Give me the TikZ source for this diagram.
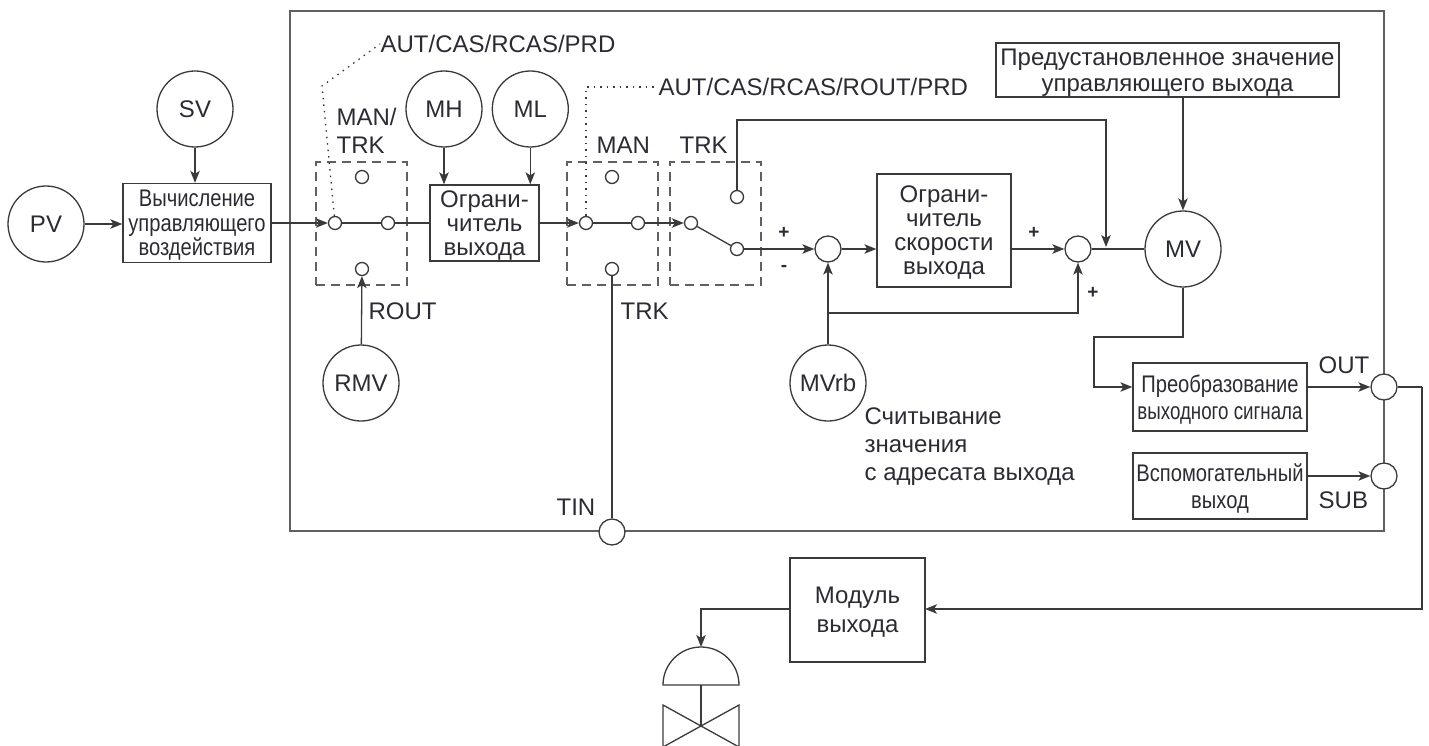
\documentclass[tikz,border=0pt]{standalone}
\usepackage{fontspec}
\usepackage{graphicx}
\setmainfont{Liberation Sans}
\newfontfamily\narrowfont[FakeStretch=0.84]{Liberation Sans}
\usepackage{xcolor}
\definecolor{wire}{HTML}{3A3A3A}
\definecolor{framegray}{HTML}{606060}
\definecolor{textmain}{HTML}{2B2B33}
\usetikzlibrary{arrows.meta,positioning}

\begin{document}
\begin{tikzpicture}[
  x=1pt,y=-1pt,
  >={Stealth[length=12pt,width=9.5pt,inset=3pt]},
  color=wire,line width=1.3pt,
  every node/.style={text=textmain,inner sep=0pt,align=center,font=\fontsize{24}{24}\selectfont},
  tag/.style={draw=none,font=\fontsize{24}{28}\selectfont},
  sign/.style={draw=none,font=\bfseries\fontsize{19}{20}\selectfont},
  box/.style={draw,rectangle,text depth=-2pt},
  narrowbox/.style={box,font=\narrowfont\fontsize{24}{27}\selectfont},
  signal/.style={draw,circle,fill=white,minimum size=76pt},
  sum/.style={draw,circle,fill=white,minimum size=26pt},
  port/.style={draw,circle,fill=white,minimum size=13pt},
  mode/.style={draw=framegray,rectangle,dash pattern=on 9pt off 6pt,minimum width=91pt,minimum height=123pt},
  ctrl/.style={dash pattern=on 1.5pt off 5pt}
]
  \useasboundingbox (0,0) rectangle (1429,746);

  % outer block
  \node[draw=framegray,line width=1.8pt,minimum width=1094pt,minimum height=520pt] (frame) at (837,271) {};

  % selector groups
  \node[mode] (modeA) at (361.5,223.5) {};
  \node[mode] (modeB) at (612.5,223.5) {};
  \node[mode] (modeC) at (715.5,223.5) {};

  % inputs
  \node[signal] (pv) at (46,224) {PV};
  \node[signal] (sv) at (195,109) {SV};
  \node[signal] (mh) at (444,109) {MH};
  \node[signal,right=9pt of mh] (ml) {ML};
  \node[signal] (rmv) at (361,383) {RMV};
  \node[signal] (mvrb) at (828,383) {MVrb};
  \node[signal] (mv) at (1183,249) {MV};

  % blocks
  \node[narrowbox,minimum width=148pt,minimum height=79pt,font=\narrowfont\fontsize{24}{24.5}\selectfont] (calc) at (197,223) {Вычисление\\управляющего\\воздействия};
  \node[box,minimum width=109pt,minimum height=76pt] (limit) at (484.5,223) {Ограни-\\читель\\выхода};
  \node[box,minimum width=134pt,minimum height=113pt] (rate) at (944,230.5) {Ограни-\\читель\\скорости\\выхода};
  \node[box,minimum width=343pt,minimum height=54pt,font=\fontsize{24}{26}\selectfont] (preset) at (1167.5,70) {Предустановленное значение\\управляющего выхода};
  \node[narrowbox,minimum width=174pt,minimum height=68pt] (conv) at (1220,397) {Преобразование\\\scalebox{0.93}[1]{выходного сигнала}};
  \node[narrowbox,minimum width=174pt,minimum height=66pt] (aux) at (1220,486) {Вспомогательный\\выход};
  \node[box,minimum width=135pt,minimum height=104pt,font=\fontsize{24}{29}\selectfont] (module) at (857.5,610) {Модуль\\выхода};

  % selector contacts
  \node[port] (aTop) at (362,177) {};
  \node[port] (aIn) at (335,223) {};
  \node[port] (aOut) at (388,223) {};
  \node[port] (aLow) at (362,269) {};
  \node[port] (bTop) at (612,177) {};
  \node[port] (bIn) at (586,223) {};
  \node[port] (bOut) at (638,223) {};
  \node[port] (bLow) at (612,269) {};
  \node[port] (cTop) at (737,197) {};
  \node[port] (cIn) at (691,223) {};
  \node[port] (cOut) at (737,249) {};

  % summing points and terminals
  \node[sum] (sumA) at (828,249) {};
  \node[sum] (sumB) at (1078,249) {};
  \node[sum] (out) at (1384,387) {};
  \node[sum] (sub) at (1384,476) {};
  \node[sum] (tin) at (612,532) {};

  % labels
  \node[tag,align=left,anchor=west] (manA) at (336,131) {MAN/\\TRK};
  \node[tag,anchor=west] (manB) at (596,145) {MAN};
  \node[tag,anchor=west] (trkC) at (679,145) {TRK};
  \node[tag,anchor=west] (rout) at (368,311) {ROUT};
  \node[tag,anchor=west] (trkB) at (620,311) {TRK};
  \node[tag,anchor=west] (tinlbl) at (556,507) {TIN};
  \node[tag,anchor=west] (outlbl) at (1318,365) {OUT};
  \node[tag,anchor=west] (sublbl) at (1318,500) {SUB};
  \node[tag,anchor=west] (autA) at (380,44) {AUT/CAS/RCAS/PRD};
  \node[tag,anchor=west] (autB) at (658,87) {AUT/CAS/RCAS/ROUT/PRD};
  \node[tag,align=left,anchor=north west] (readback) at (864,407) {Считывание\\значения\\с адресата выхода};
  \node[sign] (plusA) at (784,233) {+};
  \node[sign] (minusA) at (784,268) {-};
  \node[sign] (plusB) at (1034,233) {+};
  \node[sign] (plusC) at (1093,293) {+};

  % mode selection hints
  \coordinate (kneeA) at (322,86);
  \coordinate (kneeB) at (586,87);
  \draw[ctrl] (aIn) -- (kneeA) -- (autA.west);
  \draw[ctrl] (bIn) -- (kneeB) -- (autB.west);

  % signal path
  \draw[->] (pv) -- (calc.west |- pv);
  \draw[->] (sv) -- (calc.north -| sv);
  \draw[->] (calc) -- (aIn);
  \draw (aIn) -- (aOut);
  \draw (aOut) -- (limit);
  \draw[->] (mh) -- (limit.north -| mh);
  \draw[->] (ml) -- (limit.north -| ml);
  \draw[->] (rmv) -- (aLow);
  \draw[->] (limit) -- (bIn);
  \draw (bIn) -- (bOut);
  \draw[->] (bOut) -- (cIn);
  \draw (cIn) -- (cOut);
  \draw (bLow) -- (tin);
  \draw[->] (cOut) -- (sumA);
  \draw[->] (sumA) -- (rate.west |- sumA);
  \draw[->] (rate.east |- sumB) -- (sumB);
  \draw (sumB) -- (mv);
  \draw[->] (mvrb) -- (sumA);

  \coordinate (tee) at (828,313);
  \draw[->] (tee) -| (sumB);
  \coordinate (trkKnee) at (1106,120);
  \coordinate (trkEnd) at (1106,247);
  \draw[->] (cTop) |- (trkKnee) -- (trkEnd);
  \draw[->] (preset.south -| mv) -- (mv);

  \coordinate (mvDrop) at (1183,337);
  \coordinate (convKnee) at (1094,337);
  \draw[->] (mv) -- (mvDrop) -- (convKnee) |- (conv.west |- out);
  \draw[->] (conv.east |- out) -- (out);
  \draw[->] (aux.east |- sub) -- (sub);
  \coordinate (outKnee) at (1422,387);
  \coordinate (moduleIn) at (925,609);
  \coordinate (moduleOut) at (790,609);
  \draw (out) -- (outKnee);
  \draw[->] (outKnee) |- (moduleIn);

  % actuator and valve
  \coordinate (domeTop) at (701,647);
  \coordinate (domeBase) at (701,685);
  \coordinate (valveMid) at (701,726);
  \draw[->] (moduleOut) -| (domeTop);
  \draw (663,685) arc[start angle=180,end angle=0,radius=38pt] -- cycle;
  \draw (domeBase) -- (valveMid);
  \draw (663,705) -- (739,747) -- (739,705) -- (663,747) -- cycle;
\end{tikzpicture}
\end{document}
